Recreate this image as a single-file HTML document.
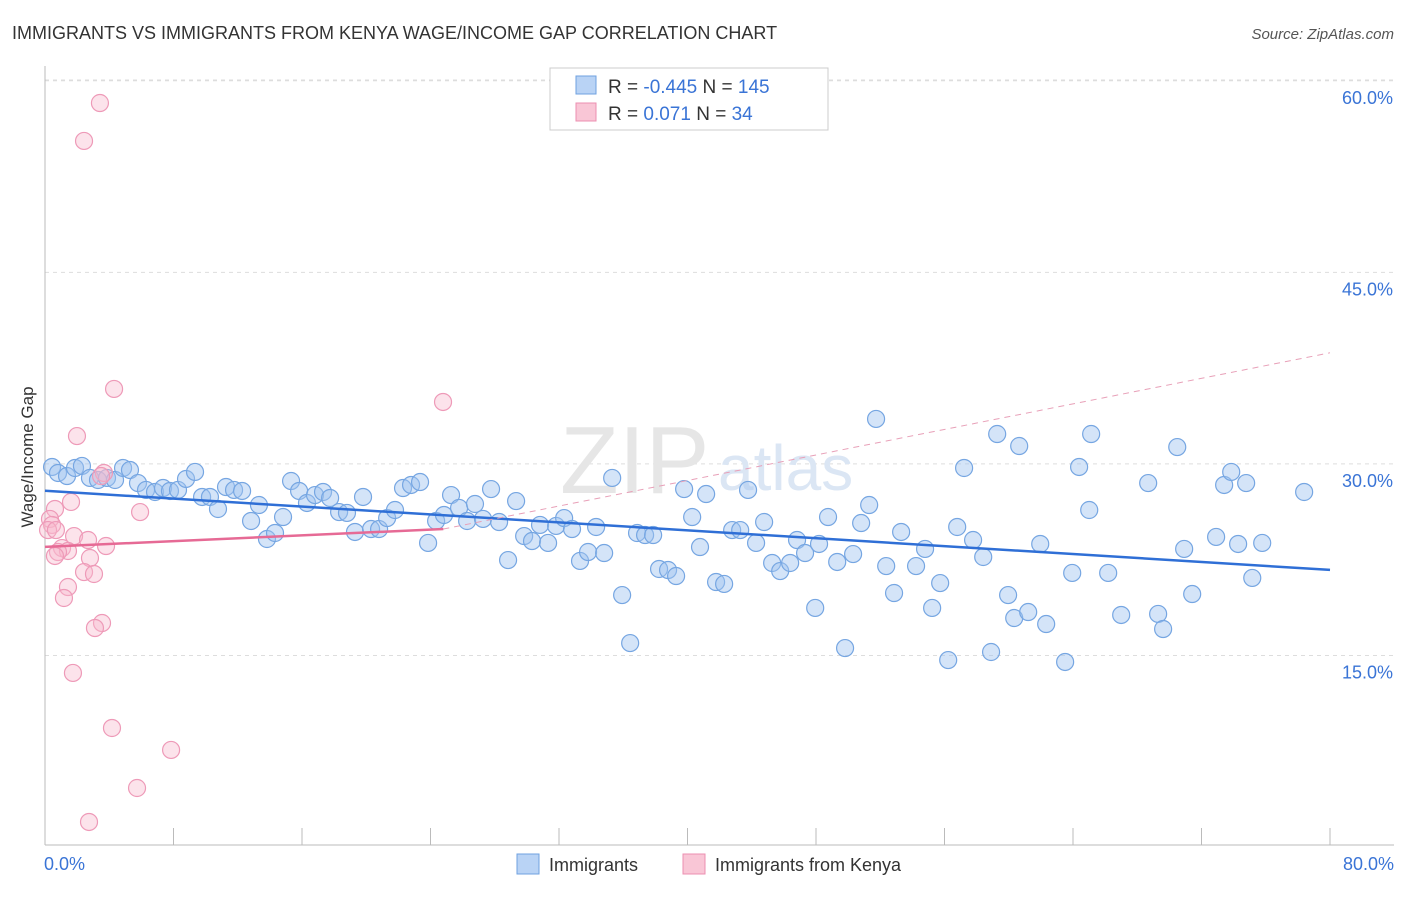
<!DOCTYPE html>
<html><head><meta charset="utf-8"><style>
body{margin:0;background:#fff;font-family:"Liberation Sans",sans-serif;}
svg text{font-family:"Liberation Sans",sans-serif;}
</style></head><body>
<svg width="1406" height="892" viewBox="0 0 1406 892">
<text x="12" y="39" font-size="18" fill="#333">IMMIGRANTS VS IMMIGRANTS FROM KENYA WAGE/INCOME GAP CORRELATION CHART</text>
<text x="1394" y="39" font-size="15" fill="#555" font-style="italic" text-anchor="end">Source: ZipAtlas.com</text>
<text transform="translate(33,457) rotate(-90)" font-size="17" fill="#333" text-anchor="middle">Wage/Income Gap</text>
<g id="grid"></g>
<g id="axes"></g>
<text x="560" y="493" font-size="96" fill="#e6e6e6" font-family="Liberation Serif">ZIP</text>
<text x="718" y="490" font-size="64" fill="#dbe6f4">atlas</text>
<g id="marks"></g>
<g>
<rect x="550" y="68" width="278" height="62" fill="#fff" stroke="#ccc"/>
<rect x="576" y="76" width="20" height="18" fill="#b9d3f5" stroke="#6fa1e0"/>
<rect x="576" y="103" width="20" height="18" fill="#f9c6d6" stroke="#ec8fb0"/>
<text x="608" y="93" font-size="19" fill="#333">R = <tspan fill="#3a74d6">-0.445</tspan>   N = <tspan fill="#3a74d6">145</tspan></text>
<text x="608" y="120" font-size="19" fill="#333">R =   <tspan fill="#3a74d6">0.071</tspan>   N =   <tspan fill="#3a74d6">34</tspan></text>
</g>
<g>
<rect x="517" y="854" width="22" height="20" fill="#b9d3f5" stroke="#6fa1e0"/>
<text x="549" y="871" font-size="18" fill="#333">Immigrants</text>
<rect x="683" y="854" width="22" height="20" fill="#f9c6d6" stroke="#ec8fb0"/>
<text x="715" y="871" font-size="18" fill="#333">Immigrants from Kenya</text>
</g>
</svg>
<script>
const blueX=[0.44,0.81,1.37,1.87,2.30,2.80,3.30,3.86,4.36,4.86,5.29,5.79,6.29,6.85,7.35,7.78,8.28,8.78,9.34,9.78,10.27,10.77,11.27,11.77,12.27,12.83,13.32,13.82,14.32,14.82,15.32,15.82,16.31,16.81,17.31,17.75,18.31,18.80,19.30,19.80,20.30,20.80,21.30,21.79,22.29,22.79,23.35,23.85,24.35,24.84,25.28,25.78,26.28,26.77,27.27,27.77,28.27,28.83,29.33,29.83,30.32,30.82,31.32,31.82,32.32,32.81,33.31,33.81,34.31,34.81,35.31,35.93,36.43,36.86,37.36,37.86,38.23,38.79,39.29,39.79,40.29,40.78,41.16,41.78,42.28,42.78,43.28,43.77,44.27,44.77,45.27,45.77,46.39,46.82,47.32,47.95,48.19,48.75,49.32,49.81,50.31,50.81,51.31,51.74,52.37,52.86,53.30,54.23,54.79,55.23,55.73,56.23,56.79,57.22,57.78,58.41,59.28,59.96,60.34,60.65,61.21,61.96,62.33,63.95,64.38,65.01,65.13,63.51,66.19,67.00,68.68,69.30,69.61,70.49,70.92,71.42,72.91,73.41,73.85,74.28,74.78,75.16,75.78,78.39,58.90];
const blueY=[29.76,29.29,29.05,29.68,29.84,28.90,28.74,28.90,28.74,29.68,29.52,28.50,27.96,27.80,28.11,27.88,27.96,28.82,29.37,27.41,27.41,26.47,28.19,27.96,27.88,25.53,26.78,24.12,24.59,25.84,28.66,27.88,26.94,27.56,27.80,27.33,26.23,26.16,24.67,27.41,24.90,24.90,25.76,26.39,28.11,28.35,28.58,23.81,25.53,26.00,27.56,26.55,25.53,26.86,25.69,28.03,25.45,22.47,27.09,24.35,23.96,25.22,23.81,25.14,25.76,24.90,22.40,23.10,25.06,23.02,28.90,19.73,15.97,24.59,24.43,24.43,21.77,21.69,21.22,28.03,25.84,23.49,27.64,20.75,20.60,24.82,24.82,27.96,23.81,25.45,22.24,21.61,22.24,24.04,23.02,18.72,23.73,25.84,22.32,15.58,22.94,25.37,26.78,33.52,22.00,19.89,24.67,22.00,23.34,18.72,20.67,14.64,25.06,29.68,24.04,22.71,32.34,19.73,17.93,31.40,18.40,23.73,17.46,21.46,29.76,26.39,32.34,14.49,21.46,18.17,28.50,18.25,17.07,31.32,23.34,19.81,24.28,28.35,29.37,23.73,28.50,21.07,23.81,27.80,15.27];
const pinkX=[3.42,2.43,4.30,24.78,1.99,3.67,3.49,1.62,5.92,0.62,0.31,0.44,0.19,0.68,1.81,2.68,3.80,1.06,1.43,0.81,0.62,2.80,2.43,3.05,1.43,1.18,3.55,3.11,1.74,4.17,7.85,5.73,2.74];
const pinkY=[58.26,55.29,35.87,34.85,32.18,29.29,29.05,27.02,26.23,26.47,25.69,25.22,24.82,24.82,24.35,24.04,23.57,23.41,23.18,23.10,22.79,22.63,21.53,21.38,20.36,19.50,17.54,17.15,13.63,9.32,7.60,4.62,1.96];
const yTicks=[15,30,45,60];
const xTicks=[0,8,16,24,32,40,48,56,64,72,80];
const blueTrend=[27.9,21.7];
const pinkTrend=[23.5,24.9,38.7];
const pinkSolidEnd=24.8;
const NS='http://www.w3.org/2000/svg';
const X=v=>45+v/80*1285;
const Y=v=>847-v*12.77;
function mk(tag,attrs,parent){const e=document.createElementNS(NS,tag);for(const k in attrs)e.setAttribute(k,attrs[k]);parent.appendChild(e);return e;}
const grid=document.getElementById('grid'),axes=document.getElementById('axes'),marks=document.getElementById('marks');
yTicks.forEach(t=>{
const l=mk('line',{x1:45,x2:1394,y1:Y(t),y2:Y(t),stroke:'#ddd','stroke-dasharray':'4,4'},grid);


const tx=mk('text',{x:1393,y:Y(t)+23,'font-size':18,fill:'#3a74d6','text-anchor':'end'},axes);
tx.textContent=t.toFixed(1)+'%';


});
const topg=mk('line',{x1:45,x2:1394,y1:80,y2:80,stroke:'#ddd','stroke-dasharray':'4,4'},grid);


const ya=mk('line',{x1:45,x2:45,y1:66,y2:845,stroke:'#bbb'},axes);


const xa=mk('line',{x1:45,x2:1394,y1:845,y2:845,stroke:'#bbb'},axes);


xTicks.forEach(t=>{
const l=mk('line',{x1:X(t),x2:X(t),y1:828,y2:845,stroke:'#bbb'},axes);


});
[[0,'start'],[80,'end']].forEach(([t,a])=>{
const tx=mk('text',{x:t===0?44:1394,y:870,'font-size':18,fill:'#3a74d6','text-anchor':a},axes);
tx.textContent=t.toFixed(1)+'%';


});
blueX.forEach((x,i)=>{
const c=mk('circle',{cx:X(x),cy:Y(blueY[i]),r:8.5,fill:'rgba(160,196,240,0.45)',stroke:'#76a6e2','stroke-width':1.2},marks);


});
pinkX.forEach((x,i)=>{
const c=mk('circle',{cx:X(x),cy:Y(pinkY[i]),r:8.5,fill:'rgba(247,184,204,0.4)',stroke:'#ee9ab8','stroke-width':1.2},marks);


});
const bt=mk('line',{x1:X(0),y1:Y(blueTrend[0]),x2:X(80),y2:Y(blueTrend[1]),stroke:'#2f6fd6','stroke-width':2.5},marks);


const pt=mk('line',{x1:X(0),y1:Y(pinkTrend[0]),x2:X(pinkSolidEnd),y2:Y(pinkTrend[1]),stroke:'#e66a95','stroke-width':2.5},marks);


const pd=mk('line',{x1:X(pinkSolidEnd),y1:Y(pinkTrend[1]),x2:X(80),y2:Y(pinkTrend[2]),stroke:'#e8a0b8','stroke-width':1,'stroke-dasharray':'6,5'},marks);


</script>
</body></html>
